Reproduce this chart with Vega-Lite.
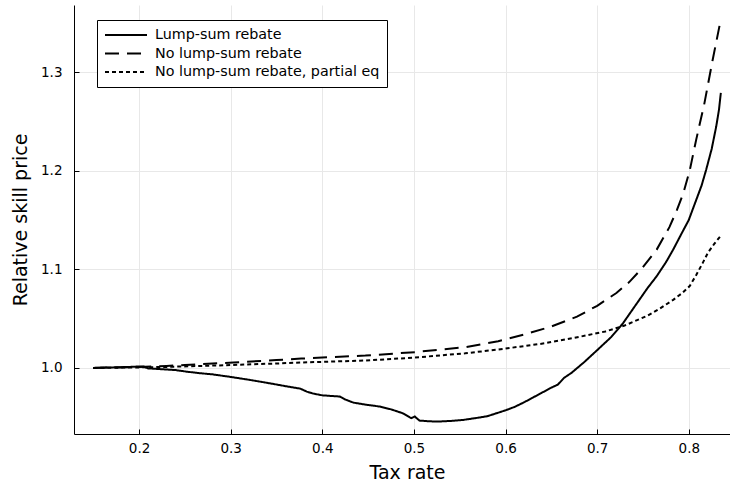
{
  "$schema": "https://vega.github.io/schema/vega-lite/v6.json",
  "width": 656,
  "height": 429,
  "autosize": {"type": "none"},
  "padding": {"left": 74, "top": 5, "right": 0, "bottom": 51},
  "config": {
    "font": "DejaVu Sans",
    "view": {"stroke": null},
    "axis": {
      "domainColor": "black",
      "domainWidth": 1,
      "tickColor": "black",
      "tickSize": -5,
      "gridColor": "#e8e8e8",
      "gridWidth": 1,
      "labelColor": "black",
      "titleColor": "black",
      "labelFontSize": 13.5,
      "titleFontSize": 19,
      "titleFontWeight": "normal"
    }
  },
  "datasets": {
    "lump": [
      {"tax": 0.15, "price": 1.0}, {"tax": 0.17, "price": 1.0005}, {"tax": 0.19, "price": 1.001}, {"tax": 0.2, "price": 1.0015}, {"tax": 0.205, "price": 1.0015},
      {"tax": 0.21, "price": 0.9995}, {"tax": 0.22, "price": 0.999}, {"tax": 0.24, "price": 0.9978}, {"tax": 0.252, "price": 0.9962}, {"tax": 0.267, "price": 0.9946},
      {"tax": 0.28, "price": 0.9935}, {"tax": 0.299, "price": 0.991}, {"tax": 0.32, "price": 0.988}, {"tax": 0.339, "price": 0.985}, {"tax": 0.36, "price": 0.9815},
      {"tax": 0.376, "price": 0.979}, {"tax": 0.383, "price": 0.976}, {"tax": 0.39, "price": 0.974}, {"tax": 0.4, "price": 0.9722}, {"tax": 0.419, "price": 0.971},
      {"tax": 0.425, "price": 0.968}, {"tax": 0.434, "price": 0.9648}, {"tax": 0.447, "price": 0.9628}, {"tax": 0.463, "price": 0.9608}, {"tax": 0.475, "price": 0.958},
      {"tax": 0.488, "price": 0.954}, {"tax": 0.497, "price": 0.949}, {"tax": 0.501, "price": 0.9507}, {"tax": 0.506, "price": 0.9466}, {"tax": 0.515, "price": 0.946},
      {"tax": 0.525, "price": 0.9456}, {"tax": 0.54, "price": 0.9462}, {"tax": 0.554, "price": 0.9473}, {"tax": 0.57, "price": 0.9495}, {"tax": 0.58, "price": 0.951},
      {"tax": 0.59, "price": 0.954}, {"tax": 0.6, "price": 0.957}, {"tax": 0.61, "price": 0.9605}, {"tax": 0.621, "price": 0.9655}, {"tax": 0.63, "price": 0.97},
      {"tax": 0.639, "price": 0.9745}, {"tax": 0.65, "price": 0.98}, {"tax": 0.657, "price": 0.983}, {"tax": 0.664, "price": 0.99}, {"tax": 0.672, "price": 0.995},
      {"tax": 0.686, "price": 1.006}, {"tax": 0.7, "price": 1.018}, {"tax": 0.715, "price": 1.031}, {"tax": 0.728, "price": 1.045}, {"tax": 0.737, "price": 1.057},
      {"tax": 0.746, "price": 1.069}, {"tax": 0.755, "price": 1.081}, {"tax": 0.765, "price": 1.093}, {"tax": 0.775, "price": 1.107}, {"tax": 0.783, "price": 1.12},
      {"tax": 0.792, "price": 1.136}, {"tax": 0.8, "price": 1.15}, {"tax": 0.808, "price": 1.17}, {"tax": 0.814, "price": 1.185}, {"tax": 0.819, "price": 1.201},
      {"tax": 0.825, "price": 1.222}, {"tax": 0.83, "price": 1.245}, {"tax": 0.833, "price": 1.262}, {"tax": 0.835, "price": 1.279}
    ],
    "nolump": [
      {"tax": 0.15, "price": 1.0}, {"tax": 0.2, "price": 1.001}, {"tax": 0.23, "price": 1.002}, {"tax": 0.25, "price": 1.003}, {"tax": 0.303, "price": 1.0055},
      {"tax": 0.35, "price": 1.008}, {"tax": 0.377, "price": 1.0095}, {"tax": 0.4, "price": 1.0105}, {"tax": 0.447, "price": 1.0125}, {"tax": 0.501, "price": 1.016},
      {"tax": 0.556, "price": 1.021}, {"tax": 0.592, "price": 1.027}, {"tax": 0.621, "price": 1.034}, {"tax": 0.65, "price": 1.042}, {"tax": 0.678, "price": 1.052},
      {"tax": 0.7, "price": 1.063}, {"tax": 0.721, "price": 1.076}, {"tax": 0.735, "price": 1.087}, {"tax": 0.748, "price": 1.1}, {"tax": 0.765, "price": 1.12},
      {"tax": 0.779, "price": 1.143}, {"tax": 0.787, "price": 1.16}, {"tax": 0.794, "price": 1.177}, {"tax": 0.801, "price": 1.2}, {"tax": 0.808, "price": 1.231},
      {"tax": 0.817, "price": 1.268}, {"tax": 0.826, "price": 1.312}, {"tax": 0.834, "price": 1.349}
    ],
    "partial": [
      {"tax": 0.15, "price": 1.0}, {"tax": 0.2, "price": 1.0005}, {"tax": 0.23, "price": 1.001}, {"tax": 0.303, "price": 1.003}, {"tax": 0.35, "price": 1.0045},
      {"tax": 0.377, "price": 1.0055}, {"tax": 0.447, "price": 1.0075}, {"tax": 0.501, "price": 1.0105}, {"tax": 0.556, "price": 1.0148}, {"tax": 0.599, "price": 1.0195},
      {"tax": 0.643, "price": 1.025}, {"tax": 0.683, "price": 1.032}, {"tax": 0.709, "price": 1.037}, {"tax": 0.73, "price": 1.043}, {"tax": 0.755, "price": 1.053},
      {"tax": 0.768, "price": 1.06}, {"tax": 0.783, "price": 1.069}, {"tax": 0.793, "price": 1.076}, {"tax": 0.801, "price": 1.083}, {"tax": 0.808, "price": 1.094},
      {"tax": 0.815, "price": 1.106}, {"tax": 0.821, "price": 1.117}, {"tax": 0.828, "price": 1.126}, {"tax": 0.834, "price": 1.133}
    ]
  },
  "layer": [
    {
      "data": {"name": "lump"},
      "transform": [{"calculate": "'Lump-sum rebate'", "as": "series"}],
      "mark": {"type": "line", "strokeWidth": 2, "color": "black"},
      "encoding": {
        "x": {"field": "tax", "type": "quantitative"},
        "y": {"field": "price", "type": "quantitative"},
        "strokeDash": {"field": "series", "type": "nominal"}
      }
    },
    {
      "data": {"name": "nolump"},
      "transform": [{"calculate": "'No lump-sum rebate'", "as": "series"}],
      "mark": {"type": "line", "strokeWidth": 2, "color": "black"},
      "encoding": {
        "x": {"field": "tax", "type": "quantitative"},
        "y": {"field": "price", "type": "quantitative"},
        "strokeDash": {"field": "series", "type": "nominal"}
      }
    },
    {
      "data": {"name": "partial"},
      "transform": [{"calculate": "'No lump-sum rebate, partial eq'", "as": "series"}],
      "mark": {"type": "line", "strokeWidth": 2, "color": "black"},
      "encoding": {
        "x": {"field": "tax", "type": "quantitative"},
        "y": {"field": "price", "type": "quantitative"},
        "strokeDash": {"field": "series", "type": "nominal"}
      }
    }
  ],
  "encoding": {
    "x": {
      "field": "tax", "type": "quantitative",
      "scale": {"domain": [0.129, 0.845], "nice": false, "zero": false},
      "axis": {"title": "Tax rate", "values": [0.2, 0.3, 0.4, 0.5, 0.6, 0.7, 0.8], "format": ".1f", "labelPadding": 12, "titlePadding": 9, "titleX": 333}
    },
    "y": {
      "field": "price", "type": "quantitative",
      "scale": {"domain": [0.933, 1.368], "nice": false, "zero": false},
      "axis": {"title": "Relative skill price", "values": [1.0, 1.1, 1.2, 1.3], "format": ".1f", "labelPadding": 17, "titlePadding": 10}
    },
    "strokeDash": {
      "field": "series", "type": "nominal",
      "scale": {
        "domain": ["Lump-sum rebate", "No lump-sum rebate", "No lump-sum rebate, partial eq"],
        "range": [[1, 0], [14, 8], [4, 3]]
      },
      "legend": {
        "title": null,
        "orient": "none",
        "legendX": 23,
        "legendY": 15,
        "strokeColor": "black",
        "fillColor": "white",
        "padding": 7,
        "cornerRadius": 0,
        "symbolType": "M-3,0H3",
        "symbolSize": 196,
        "symbolOffset": 14,
        "symbolStrokeWidth": 2,
        "symbolStrokeColor": "black",
        "labelFontSize": 14.3,
        "labelColor": "black",
        "labelOffset": 21,
        "labelLimit": 400,
        "rowPadding": 2.5
      }
    }
  }
}
